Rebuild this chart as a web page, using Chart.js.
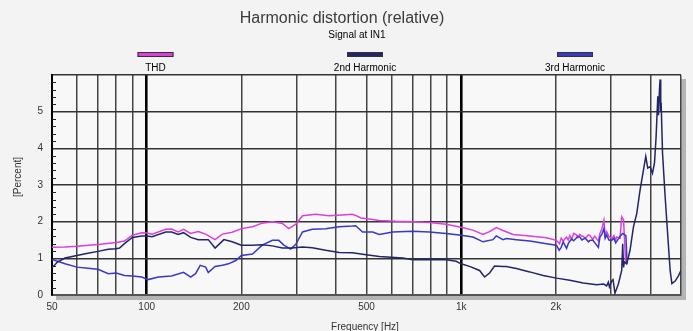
<!DOCTYPE html>
<html>
<head>
<meta charset="utf-8">
<script src="https://cdn.jsdelivr.net/npm/chart.js@4.4.0/dist/chart.umd.min.js"></script>
<style>
html,body{margin:0;padding:0;background:#f3f3f3;}
#wrap{width:693px;height:331px;position:relative;}
</style>
</head>
<body>
<div id="wrap"><canvas id="chart" width="693" height="331"></canvas></div>
<script>
// values (Hz, percent)
const thdFreq = [50,55,60,70,80,85,90,96.5,100,104,115,120,126,131,138,146,154,165,174,187,200,217,233,251,270,283,298,313,345,379,419,451,462,480,523,549,620,701,792,896,1000,1090,1173,1231,1293,1358,1462,1652,1867,
  2009,2054,2080,2110,2163,2190,2216,2244,2280,2327,2350,2384,2420,2445,2480,2505,2540,2566,2620,2660,2696,2730,2762,2800,2844,2870,2901,2950,3010,3060,3100,3122,3200,3239,3283,3330,3360];
const thdPct  = [1.30,1.31,1.33,1.38,1.43,1.47,1.63,1.70,1.69,1.66,1.79,1.80,1.72,1.79,1.68,1.73,1.66,1.51,1.66,1.71,1.81,1.86,1.96,2.00,1.95,1.81,1.93,2.16,2.20,2.16,2.18,2.20,2.17,2.10,2.06,2.03,2.01,2.00,1.98,1.93,1.85,1.77,1.65,1.73,1.84,1.76,1.65,1.61,1.56,
  1.49,1.40,1.55,1.47,1.58,1.50,1.62,1.52,1.68,1.64,1.57,1.65,1.60,1.60,1.55,1.58,1.64,1.62,1.52,1.60,1.53,1.47,1.68,1.80,2.04,1.62,1.73,1.60,1.53,1.62,1.50,1.58,1.55,2.13,2.05,0.95,0.85];

const h2Freq = [50,51,52,55,60,65,70,75.5,80,82,85,90,96.5,100,104,115,120,126,131,138,146,157,165,176,187,200,217,233,251,270,290,313,336,371,409,451,486,549,652,701,792,896,964,1000,1063,1144,1187,1231,1277,1358,1392,1498,1652,1823,2009,2216,2445,2696,2840,2901,2938,2960,3010,3040,3083,3161,3239,3263,3283,3304,3360,3443,3530,3616,3705,3799,3863,3920,3987,4058,4118,4167,4219,4240,4270,4291,4310,4323,4368,4452,4541,4618,4677,4791,4912,5000];
const h2Pct  = [0.75,0.82,0.90,1.01,1.08,1.14,1.19,1.25,1.26,1.28,1.40,1.57,1.61,1.61,1.59,1.72,1.72,1.65,1.70,1.57,1.51,1.51,1.28,1.51,1.45,1.36,1.36,1.37,1.34,1.28,1.28,1.31,1.29,1.22,1.16,1.15,1.11,1.05,1.01,0.96,0.97,0.96,0.92,0.85,0.78,0.67,0.49,0.60,0.79,0.78,0.78,0.72,0.63,0.53,0.46,0.40,0.33,0.28,0.30,0.25,0.35,0.22,0.38,0.42,0.05,0.30,0.67,1.40,0.75,0.90,0.85,1.22,1.86,2.22,2.86,3.41,3.78,3.46,3.50,3.32,3.60,4.32,5.42,4.90,5.60,5.88,5.00,5.25,3.87,2.68,1.58,0.67,0.31,0.38,0.53,0.67];

const h3Freq = [50,55,60,65,70,75.5,80,85,90,96.5,101,109,120,131,138,143,148,154,157,165,174,182,192,200,217,233,251,263,273,287,298,313,336,371,409,451,462,486,523,549,606,701,792,896,1000,1090,1173,1262,1293,1358,1392,1498,1652,1867,
  2009,2049,2080,2110,2163,2190,2244,2280,2350,2384,2420,2480,2540,2566,2620,2696,2730,2762,2800,2844,2870,2901,2950,3010,3060,3100,3161,3200,3263,3340,3370];
const h3Pct  = [0.97,0.85,0.76,0.73,0.70,0.58,0.60,0.53,0.52,0.49,0.42,0.49,0.52,0.62,0.49,0.58,0.81,0.76,0.61,0.78,0.81,0.85,0.94,1.08,1.12,1.36,1.49,1.49,1.36,1.25,1.38,1.72,1.79,1.81,1.86,1.88,1.89,1.72,1.72,1.65,1.72,1.74,1.72,1.68,1.63,1.58,1.45,1.51,1.61,1.51,1.54,1.51,1.47,1.40,
  1.36,1.22,1.30,1.45,1.27,1.40,1.53,1.48,1.60,1.58,1.50,1.55,1.45,1.49,1.50,1.36,1.30,1.58,1.65,1.81,1.55,1.64,1.50,1.49,1.55,1.42,1.53,1.60,1.68,1.62,0.86];

const gridFreqs = [50,60,70,80,90,100,200,300,400,500,600,700,800,900,1000,2000,3000,4000,5000];
const freqLabels = {50:'50',100:'100',200:'200',500:'500',1000:'1k',2000:'2k'};
const yTicks = [0,1,2,3,4,5,6];
const seriesNames = ['THD','2nd Harmonic','3rd Harmonic'];
const seriesColors = ['#dd3fdd','#24246a','#3838c4'];

const FONT = '"Liberation Sans", Arial, sans-serif';

function pts(fs, vs){ return fs.map((f,i) => ({x:f, y:vs[i]})); }

const decor = {
  id:'decor',
  beforeDraw(chart){
    const {ctx, chartArea:a} = chart;
    ctx.save();
    ctx.fillStyle = '#f3f3f3';
    ctx.fillRect(0,0,chart.width,chart.height);
    ctx.fillStyle = '#b4b4b4';
    ctx.fillRect(a.left+4, a.top+4, a.right-a.left+1, a.bottom-a.top+1);
    ctx.fillStyle = '#f8f8f8';
    ctx.fillRect(a.left, a.top, a.right-a.left, a.bottom-a.top);
    ctx.restore();
  },
  beforeDatasetsDraw(chart){
    // small inward ticks on the percent axis
    const {ctx, chartArea:a, scales:{y}} = chart;
    ctx.save();
    ctx.strokeStyle = '#222';
    ctx.lineWidth = 1;
    for(let i=1;i<30;i++){
      if(i%5===0) continue;
      const py = Math.round(y.getPixelForValue(i/5)) + 0.5;
      ctx.beginPath(); ctx.moveTo(a.left, py); ctx.lineTo(a.left+4, py); ctx.stroke();
    }
    ctx.restore();
  },
  afterDraw(chart){
    const {ctx} = chart;
    ctx.save();
    ctx.textAlign = 'center';
    ctx.textBaseline = 'middle';
    ctx.fillStyle = '#3a3a3a';
    ctx.font = '16px ' + FONT;
    ctx.fillText('Harmonic distortion (relative)', 342, 19);
    ctx.fillStyle = '#000';
    ctx.font = '10px ' + FONT;
    ctx.fillText('Signal at IN1', 357, 35);

    const cx = [155.5, 365, 575];
    seriesNames.forEach((n,i) => {
      ctx.fillStyle = seriesColors[i];
      ctx.fillRect(cx[i]-18, 52, 36, 5);
      ctx.strokeStyle = '#333';
      ctx.lineWidth = 1;
      ctx.strokeRect(cx[i]-18+0.5, 52.5, 35, 4);
      ctx.fillStyle = '#000';
      ctx.font = '10px ' + FONT;
      ctx.fillText(n, cx[i], 68);
    });

    ctx.fillStyle = '#333';
    ctx.font = '10px ' + FONT;
    ctx.fillText('Frequency [Hz]', 365, 327);
    ctx.translate(18, 177);
    ctx.rotate(-Math.PI/2);
    ctx.fillText('[Percent]', 0, 0);
    ctx.restore();
  }
};

new Chart(document.getElementById('chart'), {
  type:'scatter',
  data:{
    datasets:[
      { label:seriesNames[1], data:pts(h2Freq,h2Pct), borderColor:seriesColors[1], order:0 },
      { label:seriesNames[2], data:pts(h3Freq,h3Pct), borderColor:seriesColors[2], order:1 },
      { label:seriesNames[0], data:pts(thdFreq,thdPct), borderColor:seriesColors[0], order:2 }
    ].map(d => Object.assign(d, { showLine:true, pointRadius:0, borderWidth:1.5, tension:0, fill:false }))
  },
  options:{
    responsive:false, animation:false, devicePixelRatio:1,
    layout:{ padding:{ top:75, right:12, left:0, bottom:0 } },
    plugins:{ legend:{display:false}, tooltip:{enabled:false}, title:{display:false} },
    scales:{
      x:{
        type:'logarithmic', min:50, max:5000,
        afterBuildTicks:(ax) => { ax.ticks = gridFreqs.map(v => ({value:v})); },
        afterFit:(ax) => { ax.height = 36; },
        ticks:{ autoSkip:false, maxRotation:0, padding:6, color:'#333', font:{family:FONT, size:10},
                callback:(v) => freqLabels[v] || '' },
        grid:{ drawTicks:false,
               color:(c) => (c.tick && (c.tick.value===100 || c.tick.value===1000)) ? '#000' : '#444',
               lineWidth:(c) => (c.tick && (c.tick.value===100 || c.tick.value===1000)) ? 2.6 : 1.5 },
        border:{ color:'#555', width:2 }
      },
      y:{
        min:0, max:6,
        afterBuildTicks:(ax) => { ax.ticks = yTicks.map(v => ({value:v})); },
        afterFit:(ax) => { ax.width = 52; },
        ticks:{ padding:9, color:'#333', font:{family:FONT, size:10},
                callback:(v) => v < 6 ? String(v) : '' },
        grid:{ drawTicks:false, color:'#333', lineWidth:1.5 },
        border:{ color:'#000', width:2 }
      }
    }
  },
  plugins:[decor]
});
</script>
</body>
</html>
